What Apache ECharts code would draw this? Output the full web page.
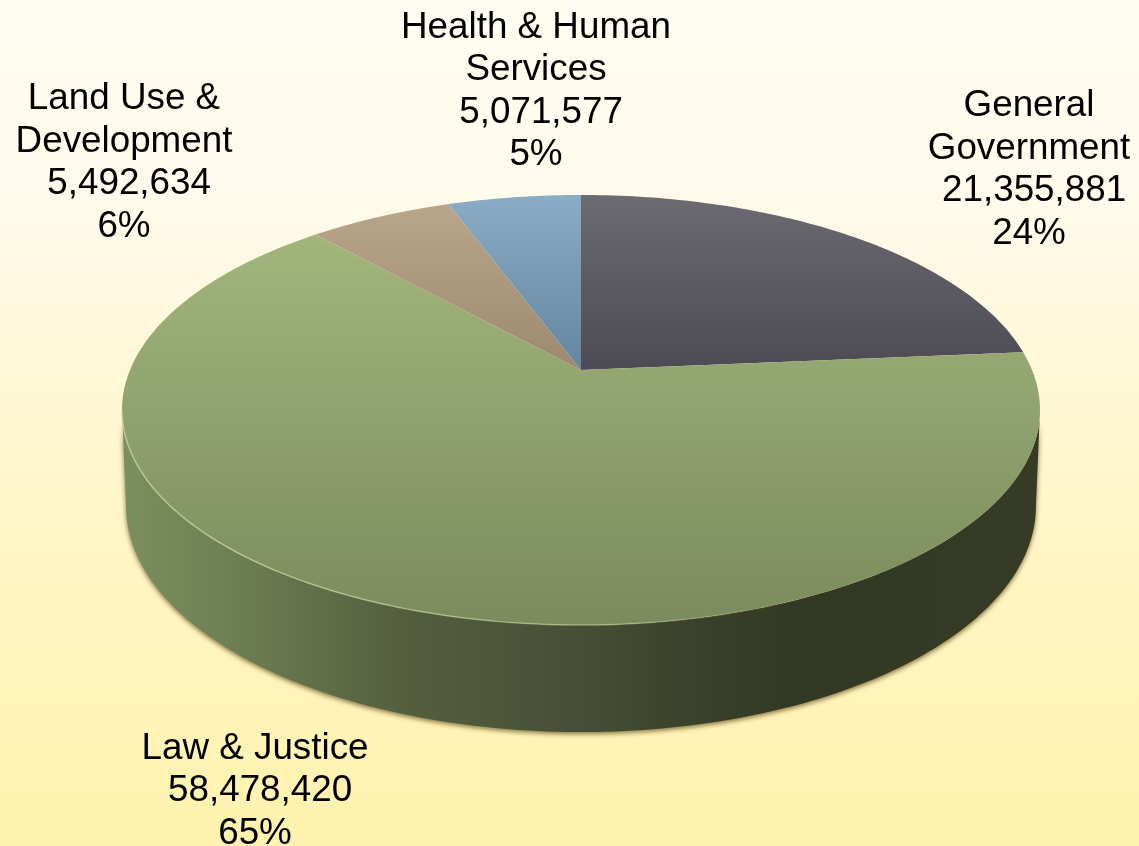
<!DOCTYPE html>
<html>
<head>
<meta charset="utf-8">
<style>html,body{margin:0;padding:0;background:#fff}#chart{width:1139px;height:846px}</style>
<script src="https://cdn.jsdelivr.net/npm/echarts@6/dist/echarts.min.js"></script>
</head>
<body>
<div id="chart"></div>
<script>
// Data, clockwise from 12 o'clock
const categories = ['General\nGovernment', 'Law & Justice', 'Land Use &\nDevelopment', 'Health & Human\nServices'];
const budgetValues = [21355881, 58478420, 5492634, 5071577];
const percentLabels = ['24%', '65%', '6%', '5%'];

// Styles and layout
const topColors = [['#6d6b71', '#4c4a53'], ['#a6ba7e', '#7b8b5e'], ['#bba78b', '#9c8970'], ['#8bacc4', '#64859f']];
const labelAnchors = [[1029, 170], [255, 791], [124, 163], [536, 91.5]];
const topFace = { cx: 581, cy: 370, a: 451, b: 207.6, k: 0.186 };
const baseFace = { cx: 581, cy: 464, a: 447, b: 218.2, k: 0.186 };

const total = budgetValues.reduce((s, v) => s + v, 0);
function sliceRange(i) {
  let start = 0;
  for (let j = 0; j < i; j++) start += budgetValues[j];
  return [start / total * 360, (start + budgetValues[i]) / total * 360];
}
function project(p, deg) {
  const t = deg * Math.PI / 180, u = Math.sin(t), v = Math.cos(t), w = 1 + p.k * v;
  return [p.cx + p.a * u / w, p.cy - p.b * v / w];
}
function arc(p, from, to) {
  const pts = [], n = Math.max(2, Math.ceil(Math.abs(to - from)));
  for (let i = 0; i <= n; i++) pts.push(project(p, from + (to - from) * i / n));
  return pts;
}
const tangentA = Math.acos(-topFace.k) * 180 / Math.PI, tangentB = 360 - tangentA;
const grad = (x, y, x2, y2, stops) => ({ type: 'linear', x, y, x2, y2, global: true, colorStops: stops });

function renderRim(params) {
  const [s, e] = sliceRange(params.dataIndex);
  const from = Math.max(s, tangentA), to = Math.min(e, tangentB);
  if (from >= to) return { type: 'group', children: [] };
  const pts = arc(topFace, from, to).concat(arc(baseFace, from, to).reverse());
  return {
    type: 'polygon', shape: { points: pts },
    style: {
      fill: grad(122, 0, 1040, 0, [
        { offset: 0, color: '#7c8f5e' }, { offset: 0.12, color: '#6e7f54' },
        { offset: 0.3, color: '#555f3e' }, { offset: 0.5, color: '#464f36' },
        { offset: 0.63, color: '#3a4029' }, { offset: 0.74, color: '#333824' }, { offset: 1, color: '#363b26' }
      ]),
      shadowBlur: 5, shadowOffsetX: 0, shadowOffsetY: 2, shadowColor: 'rgba(80,60,10,0.7)'
    }
  };
}
function renderTop(params) {
  const i = params.dataIndex, [s, e] = sliceRange(i);
  const pts = [[topFace.cx, topFace.cy]].concat(arc(topFace, s, e));
  const c = topColors[i];
  const children = [{
    type: 'polygon', shape: { points: pts },
    style: { fill: grad(0, 195, 0, i === 1 ? 625 : 370, [{ offset: 0, color: c[0] }, { offset: 1, color: c[1] }]) }
  }];
  const from = Math.max(s, tangentA), to = Math.min(e, tangentB);
  if (from < to) children.push({
    type: 'polyline', shape: { points: arc(topFace, from, to) },
    style: {
      fill: null, lineWidth: 1.5,
      stroke: grad(122, 0, 1040, 0, [
        { offset: 0, color: 'rgba(196,212,160,0.8)' }, { offset: 0.55, color: 'rgba(196,212,160,0.5)' },
        { offset: 0.75, color: 'rgba(196,212,160,0)' }, { offset: 1, color: 'rgba(196,212,160,0)' }
      ])
    }
  });
  return { type: 'group', children };
}
function renderLabel(params, api) {
  const i = params.dataIndex;
  const text = categories[i] + '\n\u00a0' + api.value(0).toLocaleString('en-US') + '\n' + percentLabels[i];
  return {
    type: 'text',
    style: {
      x: labelAnchors[i][0], y: labelAnchors[i][1], text,
      fontFamily: '"Liberation Sans", Arial, sans-serif', fontSize: 36.8, lineHeight: 42.5,
      fill: '#000', align: 'center', verticalAlign: 'middle'
    }
  };
}
const chart = echarts.init(document.getElementById('chart'), null, { renderer: 'canvas' });
chart.setOption({
  animation: false,
  backgroundColor: grad(0, 0, 0, 846, [
    { offset: 0, color: '#fffdf2' }, { offset: 0.25, color: '#fffaea' },
    { offset: 0.6, color: '#fff6c8' }, { offset: 1, color: '#fff2ae' }
  ]),
  series: [
    { type: 'custom', name: 'Side', coordinateSystem: 'none', z: 1, renderItem: renderRim, data: budgetValues, silent: true },
    { type: 'custom', name: 'Top', coordinateSystem: 'none', z: 2, renderItem: renderTop, data: budgetValues, silent: true },
    { type: 'custom', name: 'Labels', coordinateSystem: 'none', z: 3, renderItem: renderLabel, data: budgetValues, silent: true }
  ]
});
</script>
</body>
</html>
